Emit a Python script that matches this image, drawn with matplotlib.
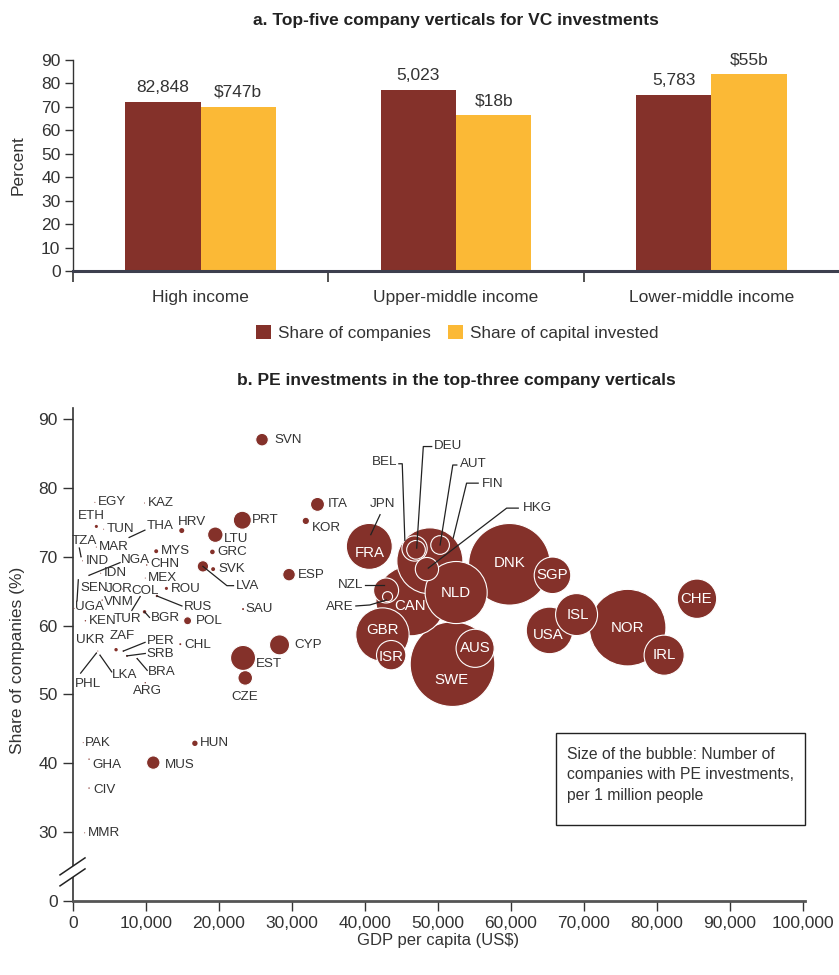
import numpy as np
import matplotlib
matplotlib.use("Agg")
import matplotlib.pyplot as plt
import matplotlib.transforms as mtransforms
from matplotlib.lines import Line2D
from matplotlib.patches import Patch, Polygon, Rectangle
from matplotlib.ticker import FuncFormatter

plt.rcParams["font.family"] = ["Liberation Sans Narrow", "Liberation Sans", "DejaVu Sans"]

BROWN = "#84312a"
GOLD = "#fbb936"
INK = "#333333"

# panel a: VC investments by income group
income_groups = ["High income", "Upper-middle income", "Lower-middle income"]
share_companies = [72, 77, 75]
share_capital = [70, 66.5, 84]
n_companies = ["82,848", "5,023", "5,783"]
capital_invested = ["$747b", "$18b", "$55b"]

# panel b: PE investments by economy
codes = ["SVN", "ITA", "KOR", "PRT", "ESP", "SAU", "CYP", "EST", "CZE", "JPN",
         "FRA", "NZL", "ARE", "GBR", "ISR", "ETH", "HRV", "LTU", "GRC", "SVK",
         "LVA", "MYS", "ROU", "RUS", "BGR", "POL", "CHL", "ZAF", "PER", "SRB",
         "BRA", "ARG", "HUN", "MUS", "DNK", "SGP", "USA", "ISL", "NOR", "IRL",
         "CHE", "NLD", "SWE", "AUS", "FIN", "BEL", "DEU", "AUT", "HKG", "CAN",
         "EGY", "KAZ", "TUN", "THA", "MAR", "TZA", "IND", "NGA", "IDN", "CHN",
         "MEX", "SEN", "JOR", "COL", "VNM", "UGA", "KEN", "TUR", "UKR", "PHL",
         "LKA", "PAK", "GHA", "CIV", "MMR"]
gdp_pc = [25900, 33500, 31900, 23200, 29600, 23300, 28300, 23300, 23600, 40800,
          40600, 42900, 43100, 42400, 43600, 3200, 14900, 19500, 19100, 19200,
          17800, 11400, 12800, 11500, 9800, 15700, 14700, 5900, 6900, 7400,
          8800, 9900, 16700, 11000, 59800, 65700, 65300, 69000, 76000, 81000,
          85500, 52500, 52000, 55100, 48900, 46800, 47000, 50300, 48500, 46300,
          3000, 9800, 4200, 7700, 3200, 1100, 1300, 2200, 3800, 10100,
          9900, 550, 3800, 6800, 4000, 150, 1700, 9200, 3400, 3200,
          3700, 1400, 2200, 2200, 1600]
share_pct = [87.0, 77.6, 75.2, 75.3, 67.4, 62.4, 57.2, 55.3, 52.4, 73.2,
             71.5, 65.1, 64.2, 58.7, 55.7, 74.4, 73.8, 73.2, 70.7, 68.2,
             68.6, 70.8, 65.4, 64.3, 62.0, 60.7, 57.3, 56.5, 56.3, 55.6,
             55.2, 51.7, 42.9, 40.1, 68.9, 67.3, 59.3, 61.6, 59.7, 55.7,
             63.9, 64.8, 54.4, 56.7, 69.4, 71.2, 71.0, 71.7, 68.2, 63.6,
             77.9, 77.8, 74.0, 72.8, 71.4, 70.0, 69.4, 67.3, 67.6, 68.8,
             66.9, 63.6, 65.3, 65.3, 63.7, 62.5, 60.7, 64.2, 56.3, 56.0,
             55.7, 43.0, 40.6, 36.4, 29.9]
pe_per_million = [8.2, 10.1, 2.8, 16.7, 8.2, 0.2, 20.7, 32.3, 11.0, 0.5,
                  109, 32.3, 5.2, 147, 44.6, 0.5, 1.3, 12.3, 1.1, 0.8,
                  6.7, 0.8, 0.5, 0.3, 0.6, 3.3, 0.2, 0.6, 0.1, 0.2,
                  0.1, 0.1, 1.5, 9.3, 344, 69, 112, 91, 303, 83,
                  80, 199, 370, 75, 225, 33, 18, 18, 28, 253,
                  0.05, 0.05, 0.05, 0.05, 0.05, 0.05, 0.05, 0.05, 0.05, 0.1,
                  0.05, 0.05, 0.05, 0.05, 0.1, 0.05, 0.1, 0.05, 0.05, 0.05,
                  0.05, 0.05, 0.1, 0.1, 0.05]

# label placement in pixels from the bubble centre: (dx, dy, ha, leader)
outside_labels = {
    "SVN": (12, 0, "left", None), "ITA": (10, 0, "left", None),
    "KOR": (6, -7, "left", None), "PRT": (10, 0, "left", None),
    "LTU": (9, -4, "left", None), "GRC": (5, 0, "left", None),
    "SVK": (5, 0, "left", None), "MYS": (5, 0, "left", None),
    "CHN": (4, 0.5, "left", None), "MEX": (3, 0.5, "left", None),
    "ROU": (4, -1, "left", None), "POL": (8, 0, "left", None),
    "CHL": (4, -1, "left", None), "EST": (13, -6, "left", None),
    "CYP": (15, 0, "left", None), "ESP": (9, 0, "left", None),
    "SAU": (2, 0, "left", None), "EGY": (3, 0, "left", None),
    "KAZ": (3, 0, "left", None), "TUN": (3, 0, "left", None),
    "MAR": (3, 0, "left", None), "IND": (3, 0, "left", None),
    "IDN": (3, 0, "left", None), "JOR": (5, 0, "left", None),
    "COL": (9, -1.5, "left", None), "VNM": (2, -2, "left", None),
    "UGA": (1, 1.5, "left", None), "KEN": (3, -0.5, "left", None),
    "PAK": (2, 0, "left", None), "GHA": (3, -6, "left", None),
    "CIV": (4, -2, "left", None), "MMR": (3, 0, "left", None),
    "HUN": (5, 0, "left", None), "MUS": (12, -2, "left", None),
    "HRV": (-4, 9, "left", None),
    "CZE": (0, -19, "center", None), "ETH": (-5, 10, "center", None),
    "ZAF": (6, 14, "center", None), "UKR": (-8, 11, "center", None),
    "ARG": (2, -8, "center", None),
    "LVA": (33, -20, "left", [(0, 0), (24, -19.3), (30.6, -19.3)]),
    "RUS": (27.3, -10.7, "left", [(0, 0), (25, -10)]),
    "BGR": (6.4, -6.6, "left", [(0, 0), (5, -5.6)]),
    "THA": (17.7, 11.3, "left", [(0, 0), (15.7, 7.3)]),
    "TZA": (3.3, 15.3, "center", [(0, 0), (-1.7, 8.7)]),
    "NGA": (32, 15, "left", [(0, 0), (31, 12.7)]),
    "SEN": (3, 12.7, "left", [(0, 0), (1.3, 21)]),
    "TUR": (-12.5, -22.3, "center", [(0, 0), (-8.3, -13.7)]),
    "PHL": (-8.7, -30.7, "center", [(0, 0), (-15.7, -20)]),
    "LKA": (11.5, -20, "left", [(0, 0), (11.7, -16.7)]),
    "PER": (23.2, 10, "left", [(0, 0), (21.7, 8.7)]),
    "SRB": (19.8, 1.7, "left", [(0, 0), (18.3, 2.4)]),
    "BRA": (10.7, -13.7, "left", [(0, 0), (10, -11.7)]),
    "JPN": (11.3, 31, "center", [(0, 0), (9.3, 20)]),
    "NZL": (-23, 5.7, "right", [(-2.5, 5.7), (-21.5, 5.7)]),
    "ARE": (-34, -10, "right", [(-1, -3.3), (-17.7, -8.3), (-31.7, -9.3)]),
    "BEL": (-17, 86, "right", [(-9.7, 8), (-12.3, 84.7), (-15.7, 84.7)]),
    "DEU": (18, 104, "left", [(0.7, 1.7), (7.3, 103.3), (15.7, 103.3)]),
    "AUT": (20, 80.7, "left", [(0, 0), (12.7, 80), (16.7, 80)]),
    "FIN": (52, 76.7, "left", [(23.3, 22.7), (36.7, 77.7), (48.3, 77.7)]),
    "HKG": (95.7, 61, "left", [(1.3, 1), (79.7, 61), (91.3, 61)]),
}
inside_labels = {
    "FRA": (0, -7), "GBR": (0, 4.5), "ISR": (0, -1.5), "CAN": (-1, -5),
    "NLD": (0, 0), "SWE": (-1, -16), "AUS": (0, 0), "DNK": (0, 1),
    "SGP": (0, 0), "USA": (-1, -4.5), "ISL": (1, -0.7), "NOR": (0, 0),
    "IRL": (0, 0), "CHE": (-1, 0),
}

LABEL_FS = 9.6

fig = plt.figure(figsize=(8.39, 9.75), dpi=100)

# ---------------- panel a ----------------
ax1 = fig.add_axes([73 / 839, 1 - 271 / 975, 766 / 839, 211 / 975])
x = np.arange(len(income_groups))
w = 0.295
bars_c = ax1.bar(x - w / 2, share_companies, w, color=BROWN)
bars_k = ax1.bar(x + w / 2, share_capital, w, color=GOLD)
for bars, texts in ((bars_c, n_companies), (bars_k, capital_invested)):
    for rect, txt in zip(bars, texts):
        ax1.annotate(txt, (rect.get_x() + rect.get_width() / 2, rect.get_height()),
                     xytext=(0, 7), textcoords="offset pixels", ha="center",
                     va="bottom", fontsize=12.5, color=INK, clip_on=False)

ax1.set_xlim(-0.5, 2.5)
ax1.set_ylim(0, 90)
ax1.set_yticks(range(0, 91, 10))
ax1.set_xticks(x)
ax1.set_xticklabels(income_groups)
ax1.set_xticks([-0.5, 0.5, 1.5], minor=True)
for side in ("top", "right"):
    ax1.spines[side].set_visible(False)
ax1.spines["left"].set_color(INK)
ax1.spines["left"].set_linewidth(1.0)
ax1.spines["bottom"].set_color("#3d3f4e")
ax1.spines["bottom"].set_linewidth(2.2)
ax1.tick_params(axis="y", direction="out", length=6, width=1, labelsize=12.5,
                colors=INK, pad=3)
ax1.tick_params(axis="x", which="major", length=0, pad=14, labelsize=12.5,
                colors=INK)
ax1.tick_params(axis="x", which="minor", length=8, width=1.2, color=INK)
fig.text(18 / 839, 1 - 165 / 975, "Percent", rotation=90, ha="center",
         va="center", fontsize=12.5, color=INK)

fig.text(0.544, 1 - 20 / 975, "a. Top-five company verticals for VC investments",
         ha="center", va="center", fontsize=12.5, fontweight="bold", color="#222222")

handles = [Patch(facecolor=BROWN), Patch(facecolor=GOLD)]
fig.legend(handles, ["Share of companies", "Share of capital invested"],
           loc="center", bbox_to_anchor=(0.545, 1 - 333 / 975), ncol=2,
           frameon=False, fontsize=12.3, handlelength=0.9, handleheight=0.9,
           handletextpad=0.4, columnspacing=1.0, labelcolor=INK)

# ---------------- panel b ----------------
ax2 = fig.add_axes([73 / 839, 1 - 901 / 975, 732 / 839, 493 / 975])

gx = np.array(gdp_pc, dtype=float)
gy = np.array(share_pct, dtype=float)
vals = np.array(pe_per_million, dtype=float)
radius_px = 2.2 * np.sqrt(vals)
marker_area = (2 * radius_px * 72 / fig.dpi) ** 2
order = np.argsort(-vals, kind="stable")
edge_w = np.where(radius_px[order] > 3, 0.8, 0.0)
ax2.scatter(gx[order], gy[order], s=marker_area[order], color=BROWN,
            edgecolors="white", linewidths=edge_w, zorder=3)

for i, code in enumerate(codes):
    if code in inside_labels:
        dx, dy = inside_labels[code]
        ax2.annotate(code, (gx[i], gy[i]), xytext=(dx, dy),
                     textcoords="offset pixels", ha="center", va="center",
                     fontsize=LABEL_FS + 1.2, color="white", zorder=5)
        continue
    dx, dy, ha, leader = outside_labels[code]
    ax2.annotate(code, (gx[i], gy[i]), xytext=(dx, dy),
                 textcoords="offset pixels", ha=ha, va="center",
                 fontsize=LABEL_FS, color=INK, zorder=5)
    if leader:
        trans = mtransforms.Affine2D() + mtransforms.ScaledTranslation(
            gx[i], gy[i], ax2.transData)
        lx, ly = zip(*leader)
        ax2.add_artist(Line2D(lx, ly, transform=trans, color="#222222",
                              lw=0.9, zorder=4, clip_on=False))

ax2.set_xlim(0, 100300)
ax2.set_ylim(20, 91.6)
ax2.set_xticks(range(0, 100001, 10000))
ax2.xaxis.set_major_formatter(FuncFormatter(lambda v, p: f"{int(v):,}"))
ax2.set_yticks([20, 30, 40, 50, 60, 70, 80, 90])
ax2.set_yticklabels(["0", "30", "40", "50", "60", "70", "80", "90"])
for side in ("top", "right"):
    ax2.spines[side].set_visible(False)
ax2.spines["left"].set_color(INK)
ax2.spines["left"].set_linewidth(1.2)
ax2.spines["bottom"].set_color("#555555")
ax2.spines["bottom"].set_linewidth(2.0)
ax2.tick_params(direction="out", length=7, width=1, labelsize=12.5, colors=INK,
                pad=4)

# axis break on the y axis between 0 and 30
brk = mtransforms.Affine2D() + mtransforms.ScaledTranslation(0, 24.3, ax2.transData)
ax2.add_patch(Polygon([(-13, -3.5), (12, 13.5), (12, 2.5), (-13, -14.5)],
                      closed=True, facecolor="white", edgecolor="none",
                      transform=brk, clip_on=False, zorder=6))
for y0, y1 in ((-3.5, 13.5), (-14.5, 2.5)):
    ax2.add_artist(Line2D([-13, 12], [y0, y1], transform=brk, color="#222222",
                          lw=1.1, clip_on=False, zorder=7))

fig.text(438 / 839, 1 - 940 / 975, "GDP per capita (US$)", ha="center",
         va="center", fontsize=12, color=INK)
fig.text(18 / 839, 1 - 660 / 975, "Share of companies (%)", rotation=90,
         ha="center", va="center", fontsize=12.5, color=INK)
fig.text(0.544, 1 - 381 / 975,
         "b. PE investments in the top-three company verticals",
         ha="center", va="center", fontsize=12.5, fontweight="bold", color="#222222")

fig.patches.append(Rectangle((556 / 839, 1 - 825 / 975), 249 / 839, 92 / 975,
                             transform=fig.transFigure, facecolor="white",
                             edgecolor="#222222", lw=1.0))
fig.text(567 / 839, 1 - 747 / 975,
         "Size of the bubble: Number of\ncompanies with PE investments,\nper 1 million people",
         ha="left", va="top", fontsize=11.3, linespacing=1.45, color=INK)

fig.savefig("out.png", dpi=100)
